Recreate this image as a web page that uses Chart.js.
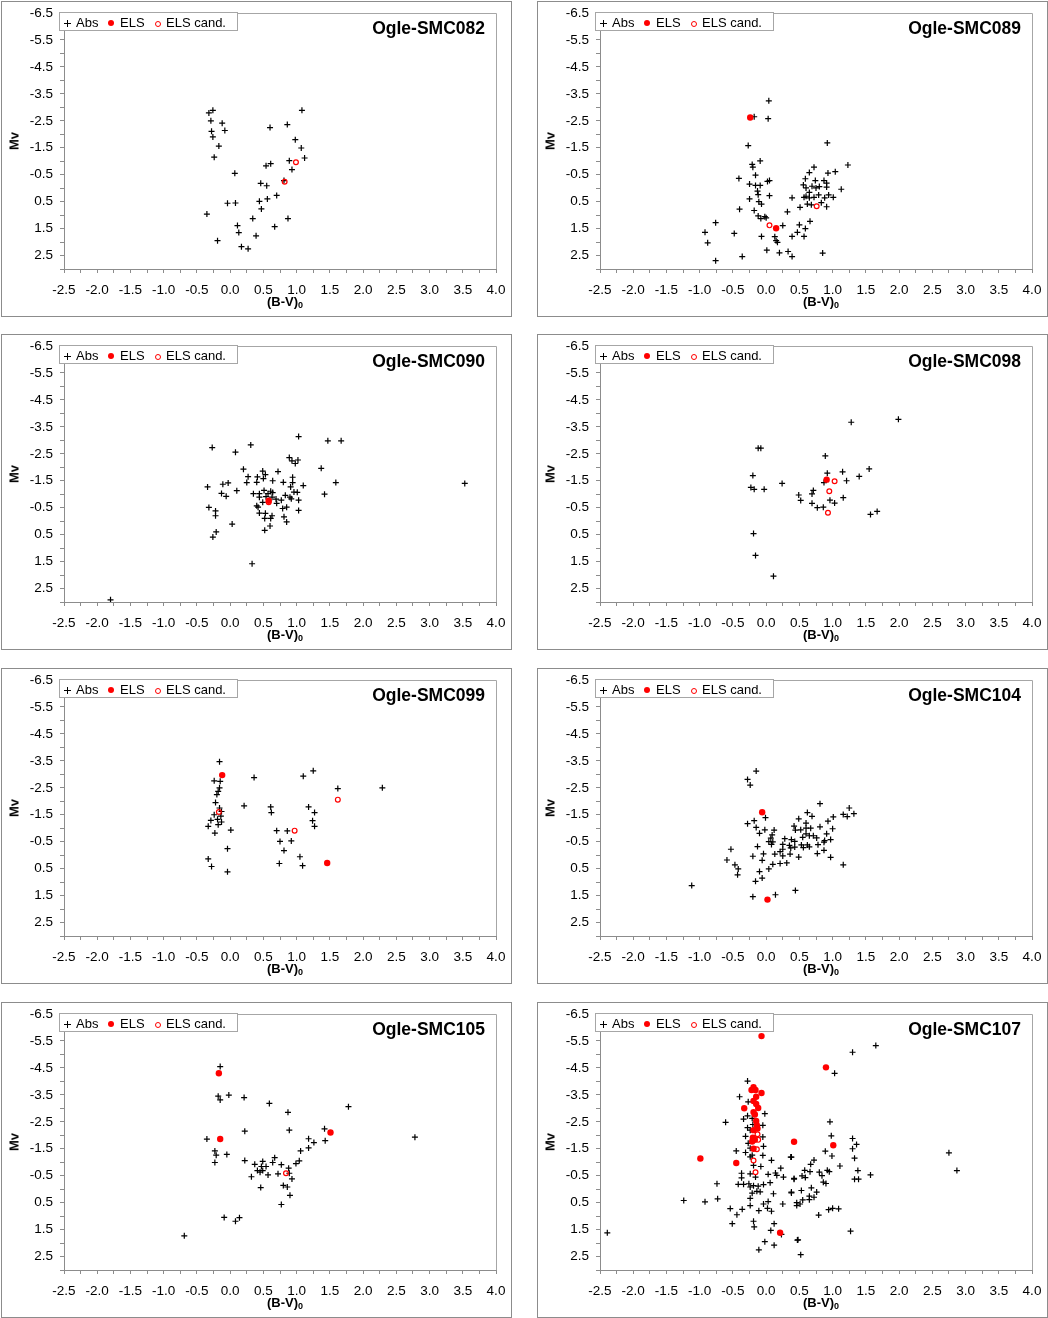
<!DOCTYPE html>
<html>
<head>
<meta charset="utf-8">
<title>Ogle-SMC colour-magnitude diagrams</title>
<script src="https://cdn.jsdelivr.net/npm/chart.js@4.4.1/dist/chart.umd.min.js"></script>
<style>
  body { margin: 0; background: #fff; font-family: "Liberation Sans", Arial, sans-serif; color: #000; }
  .panel { position: absolute; width: 511px; height: 316px; box-sizing: border-box; border: 1px solid #8c8c8c; background: #fff; }
  .panel canvas { position: absolute; left: 0; top: 0; }
  .lg { position: absolute; left: 57px; top: 10px; width: 179px; height: 19px; box-sizing: border-box; border: 1px solid #a6a6a6; background: #fff; }
  .lg span { position: absolute; }
  .lt { top: 3px; font-size: 13px; line-height: 13px; white-space: nowrap; }
  .t1 { left: 16px; } .t2 { left: 60px; } .t3 { left: 106px; }
  .cr { left: 4px; top: 7px; width: 7px; height: 7px; }
  .cr::before { content: ''; position: absolute; left: 0; top: 3px; width: 7px; height: 1px; background: #000; }
  .cr::after { content: ''; position: absolute; left: 3px; top: 0; width: 1px; height: 7px; background: #000; }
  .dot { left: 48px; top: 7px; width: 6px; height: 6px; border-radius: 50%; background: #ff0000; }
  .ring { left: 95px; top: 7.5px; width: 4px; height: 4px; border: 1px solid #ff0000; border-radius: 50%; }
  .ttl { position: absolute; right: 26px; top: 18px; font-weight: bold; font-size: 17.5px; line-height: 17.5px; white-space: nowrap; }
  .ytl { position: absolute; left: 11.5px; top: 139px; transform: translate(-50%, -50%) rotate(-90deg); font-weight: bold; font-size: 13px; line-height: 13px; }
  .xtl { position: absolute; left: 283px; top: 299px; transform: translate(-50%, -50%); font-weight: bold; font-size: 13px; line-height: 13px; white-space: nowrap; }
  .xtl sub { font-size: 9px; line-height: 0; vertical-align: -2px; }
</style>
</head>
<body>
<script>
// tick values and their labels (empty label = minor tick)
var xTicks = [-2.5, -2.25, -2.0, -1.75, -1.5, -1.25, -1.0, -0.75, -0.5, -0.25, 0.0, 0.25, 0.5, 0.75, 1.0, 1.25, 1.5, 1.75, 2.0, 2.25, 2.5, 2.75, 3.0, 3.25, 3.5, 3.75, 4.0];
var xTickLabels = ['-2.5', '', '-2.0', '', '-1.5', '', '-1.0', '', '-0.5', '', '0.0', '', '0.5', '', '1.0', '', '1.5', '', '2.0', '', '2.5', '', '3.0', '', '3.5', '', '4.0'];
var yTicks = [-6.5, -6.0, -5.5, -5.0, -4.5, -4.0, -3.5, -3.0, -2.5, -2.0, -1.5, -1.0, -0.5, 0.0, 0.5, 1.0, 1.5, 2.0, 2.5, 3.0];
var yTickLabels = ['-6.5', '', '-5.5', '', '-4.5', '', '-3.5', '', '-2.5', '', '-1.5', '', '-0.5', '', '0.5', '', '1.5', '', '2.5', ''];

var panelNames = ['Ogle-SMC082', 'Ogle-SMC089', 'Ogle-SMC090', 'Ogle-SMC098', 'Ogle-SMC099', 'Ogle-SMC104', 'Ogle-SMC105', 'Ogle-SMC107'];

// [(B-V)0, Mv] pairs
var smc082Abs = [[-0.26,-2.89],[-0.32,-2.79],[-0.29,-2.50],[-0.12,-2.41],[-0.28,-2.11],[-0.08,-2.14],[-0.26,-1.90],[-0.17,-1.56],[-0.24,-1.15],[1.08,-2.89],[0.60,-2.25],[0.86,-2.36],[0.98,-1.80],[1.07,-1.49],[1.12,-1.12],[0.89,-1.02],[0.93,-0.69],[0.54,-0.83],[0.61,-0.91],[0.81,-0.28],[0.07,-0.55],[0.46,-0.18],[0.55,-0.09],[0.70,0.27],[0.56,0.40],[0.44,0.49],[-0.04,0.56],[0.08,0.55],[0.47,0.77],[-0.35,0.96],[0.34,1.13],[0.87,1.13],[0.11,1.39],[0.67,1.43],[0.13,1.65],[0.39,1.77],[-0.19,1.95],[0.17,2.17],[0.27,2.25]];
var smc082Els = [];
var smc082Cand = [[0.99,-0.96],[0.82,-0.24]];

var smc089Abs = [[0.04,-3.24],[-0.18,-2.65],[0.03,-2.58],[-0.27,-1.58],[0.92,-1.68],[-0.09,-1.01],[-0.21,-0.88],[-0.20,-0.78],[1.23,-0.86],[0.72,-0.78],[0.65,-0.58],[0.93,-0.56],[1.04,-0.61],[-0.16,-0.48],[-0.41,-0.36],[0.05,-0.28],[0.02,-0.25],[0.59,-0.35],[0.74,-0.28],[0.87,-0.28],[0.91,-0.19],[-0.25,-0.15],[-0.16,-0.10],[-0.09,-0.10],[0.56,-0.12],[0.69,-0.07],[0.60,-0.01],[0.75,-0.01],[0.80,-0.06],[0.91,-0.04],[1.13,0.04],[-0.13,0.11],[-0.12,0.24],[0.05,0.28],[0.65,0.16],[0.79,0.25],[0.94,0.25],[-0.25,0.40],[0.39,0.36],[0.57,0.34],[0.60,0.30],[0.65,0.36],[0.72,0.34],[0.88,0.36],[1.01,0.34],[-0.11,0.50],[-0.07,0.59],[0.51,0.71],[0.62,0.59],[0.68,0.62],[0.83,0.54],[0.91,0.69],[-0.40,0.78],[-0.18,0.83],[0.32,0.88],[-0.12,1.03],[-0.08,1.13],[-0.02,1.06],[0.00,1.10],[-0.76,1.28],[0.66,1.23],[0.50,1.36],[0.25,1.39],[0.59,1.50],[-0.92,1.64],[-0.48,1.68],[0.47,1.64],[0.39,1.79],[0.57,1.79],[-0.07,1.79],[0.13,1.80],[0.15,1.95],[0.17,2.01],[-0.88,2.03],[0.01,2.30],[0.20,2.40],[0.33,2.35],[0.39,2.54],[0.85,2.41],[-0.36,2.54],[-0.76,2.69]];
var smc089Els = [[-0.24,-2.62],[0.15,1.49]];
var smc089Cand = [[0.76,0.67],[0.05,1.38]];

var smc090Abs = [[1.03,-3.14],[1.47,-2.98],[1.67,-2.98],[-0.27,-2.73],[0.31,-2.83],[0.08,-2.56],[0.89,-2.36],[0.93,-2.24],[1.02,-2.27],[0.98,-2.14],[1.37,-1.96],[0.20,-1.93],[0.49,-1.86],[0.72,-1.84],[0.53,-1.73],[0.27,-1.65],[0.41,-1.64],[0.50,-1.58],[0.94,-1.63],[0.64,-1.50],[0.40,-1.44],[0.25,-1.43],[0.80,-1.44],[0.94,-1.43],[1.59,-1.43],[-0.03,-1.42],[-0.11,-1.37],[-0.34,-1.27],[0.91,-1.27],[1.10,-1.32],[0.10,-1.13],[0.51,-1.14],[0.61,-1.11],[0.96,-1.08],[-0.13,-1.03],[-0.06,-0.92],[0.35,-1.02],[0.44,-1.02],[0.57,-1.02],[0.64,-1.06],[1.01,-1.07],[1.42,-1.00],[0.83,-0.96],[0.90,-0.89],[0.44,-0.89],[0.54,-0.91],[0.63,-0.89],[0.92,-0.83],[1.03,-0.78],[0.69,-0.82],[0.77,-0.78],[0.49,-0.70],[0.70,-0.66],[0.40,-0.57],[0.42,-0.52],[-0.32,-0.51],[0.79,-0.47],[0.85,-0.52],[1.03,-0.40],[-0.22,-0.38],[-0.22,-0.20],[0.44,-0.30],[0.53,-0.29],[0.63,-0.20],[0.61,-0.10],[0.81,-0.16],[0.52,-0.10],[0.85,0.03],[0.03,0.11],[0.60,0.18],[-0.21,0.40],[-0.26,0.59],[0.52,0.34],[0.33,1.58],[-1.80,2.92],[3.53,-1.40]];
var smc090Els = [[0.58,-0.76]];
var smc090Cand = [[0.58,-0.70]];

var smc098Abs = [[1.28,-3.67],[1.99,-3.78],[-0.12,-2.71],[-0.08,-2.71],[0.89,-2.42],[0.92,-1.78],[1.15,-1.83],[1.55,-1.94],[-0.20,-1.69],[1.40,-1.66],[1.21,-1.50],[0.87,-1.43],[0.24,-1.40],[-0.23,-1.25],[-0.18,-1.18],[-0.03,-1.18],[0.71,-1.14],[0.69,-1.01],[0.49,-0.97],[0.52,-0.77],[0.96,-0.78],[1.03,-0.67],[1.16,-0.87],[0.69,-0.66],[0.77,-0.50],[0.86,-0.52],[1.57,-0.25],[1.67,-0.36],[-0.19,0.46],[-0.16,1.27],[0.11,2.04]];
var smc098Els = [[0.91,-1.54]];
var smc098Cand = [[1.03,-1.48],[0.95,-1.11],[0.93,-0.31]];

var smc099Abs = [[-0.16,-3.47],[1.25,-3.13],[1.10,-2.93],[0.36,-2.88],[-0.24,-2.76],[-0.15,-2.74],[2.29,-2.50],[-0.16,-2.50],[-0.18,-2.37],[-0.20,-2.25],[1.62,-2.47],[-0.22,-1.95],[0.21,-1.83],[0.61,-1.79],[0.62,-1.58],[1.18,-1.79],[1.27,-1.58],[-0.16,-1.75],[-0.13,-1.62],[-0.24,-1.50],[-0.14,-1.45],[-0.29,-1.29],[-0.19,-1.33],[-0.13,-1.23],[-0.18,-1.13],[-0.33,-1.07],[0.01,-0.93],[-0.23,-0.82],[1.24,-1.28],[1.27,-1.07],[0.70,-0.91],[0.86,-0.90],[0.92,-0.53],[0.75,-0.51],[0.81,-0.17],[-0.04,-0.24],[1.05,0.06],[-0.33,0.14],[0.74,0.31],[1.09,0.39],[-0.28,0.42],[-0.04,0.62]];
var smc099Els = [[-0.12,-2.97],[1.46,0.29]];
var smc099Cand = [[1.62,-2.06],[-0.17,-1.60],[0.97,-0.91]];

var smc104Abs = [[-0.15,-3.12],[-0.28,-2.81],[-0.24,-2.60],[0.81,-1.91],[0.62,-1.58],[0.69,-1.44],[0.49,-1.35],[-0.01,-1.39],[-0.18,-1.28],[-0.28,-1.17],[-0.15,-1.03],[-0.10,-0.81],[-0.02,-0.94],[0.12,-0.93],[0.09,-0.75],[0.07,-0.63],[0.04,-0.50],[0.08,-0.40],[-0.13,-0.32],[-0.53,-0.22],[0.42,-1.08],[0.44,-0.93],[0.52,-0.94],[0.60,-1.19],[0.60,-1.00],[0.67,-1.00],[0.60,-0.79],[0.65,-0.72],[0.71,-0.72],[0.55,-0.66],[0.76,-0.64],[0.28,-0.61],[0.38,-0.58],[0.43,-0.51],[0.25,-0.40],[0.35,-0.36],[0.53,-0.38],[0.56,-0.28],[0.62,-0.38],[0.65,-0.31],[0.37,-0.27],[0.43,-0.30],[0.78,-0.39],[0.87,-0.48],[0.88,-0.54],[0.91,-0.79],[0.97,-0.58],[0.81,-1.05],[0.93,-1.26],[1.00,-0.98],[1.01,-1.42],[1.16,-1.51],[1.22,-1.43],[1.25,-1.75],[1.32,-1.54],[0.77,-0.06],[0.87,-0.18],[0.97,0.08],[1.16,0.36],[-0.04,-0.05],[-0.20,0.04],[0.13,-0.04],[0.25,0.03],[0.36,-0.04],[0.49,0.07],[-0.06,0.19],[-0.59,0.18],[0.10,0.34],[0.21,0.31],[0.31,0.29],[-0.47,0.36],[-0.42,0.51],[0.04,0.51],[-0.10,0.61],[-0.43,0.73],[-0.06,0.85],[-0.16,0.97],[-1.12,1.13],[0.44,1.31],[0.14,1.47],[-0.20,1.54],[0.25,-0.22],[0.21,-0.13],[0.10,-0.49]];
var smc104Els = [[-0.06,-1.59],[0.02,1.65]];
var smc104Cand = [];

var smc105Abs = [[-0.15,-4.55],[-0.18,-3.45],[-0.15,-3.31],[-0.02,-3.49],[0.21,-3.40],[0.59,-3.18],[0.87,-2.85],[1.78,-3.06],[0.22,-2.15],[0.89,-2.19],[-0.35,-1.86],[1.42,-2.24],[1.43,-1.80],[1.18,-1.87],[1.26,-1.73],[1.18,-1.53],[1.06,-1.42],[-0.23,-1.42],[-0.21,-1.26],[-0.05,-1.29],[-0.23,-0.99],[0.22,-1.06],[0.37,-0.92],[0.49,-1.03],[0.67,-1.17],[0.64,-0.99],[0.77,-0.91],[1.04,-1.05],[0.99,-0.95],[0.47,-0.84],[0.54,-0.84],[0.41,-0.69],[0.49,-0.69],[0.45,-0.63],[0.32,-0.46],[0.57,-0.53],[0.72,-0.57],[0.88,-0.78],[0.89,-0.59],[0.93,-0.38],[0.46,-0.06],[0.80,-0.14],[0.86,-0.08],[0.90,0.23],[0.77,0.57],[-0.09,1.05],[0.14,1.06],[0.08,1.19],[-0.69,1.73],[2.78,-1.93]];
var smc105Els = [[-0.17,-4.30],[-0.15,-1.86],[1.51,-2.10]];
var smc105Cand = [[0.84,-0.59]];

var smc107Abs = [[-0.28,-4.01],[-0.40,-3.43],[-0.27,-3.24],[-0.02,-2.80],[-0.61,-2.48],[-0.34,-2.60],[-0.28,-2.72],[-0.21,-2.63],[-0.20,-2.40],[-0.05,-2.37],[-0.28,-2.28],[-0.24,-2.19],[-0.31,-1.96],[-0.05,-1.94],[-0.27,-1.70],[-0.04,-1.59],[-0.45,-1.42],[-0.31,-1.36],[-0.24,-1.52],[-0.21,-1.26],[-0.24,-1.20],[-0.05,-1.25],[0.08,-1.07],[0.37,-1.19],[-0.19,-0.88],[-0.08,-0.84],[0.22,-0.78],[-0.37,-0.59],[-0.24,-0.57],[-0.16,-0.45],[0.03,-0.55],[0.14,-0.60],[0.16,-0.51],[0.26,-0.45],[0.42,-0.37],[-0.37,-0.42],[-0.74,-0.20],[-0.42,-0.18],[-0.34,-0.18],[-0.26,-0.20],[0.06,-0.24],[-0.19,-0.13],[-0.12,-0.11],[-0.04,-0.17],[-0.24,-0.08],[-0.14,0.08],[-0.21,0.15],[-0.09,0.10],[0.11,0.17],[0.38,0.14],[-0.24,0.34],[-0.73,0.36],[-0.92,0.47],[0.03,0.46],[-0.04,0.55],[0.25,0.55],[0.46,0.50],[-0.24,0.61],[-0.54,0.72],[0.02,0.71],[-0.36,0.75],[-0.11,0.80],[0.08,0.82],[-0.44,0.95],[-0.19,1.19],[-0.18,1.40],[-0.51,1.28],[0.12,1.28],[0.07,1.53],[0.23,1.68],[-0.02,1.95],[0.12,2.08],[-0.11,2.25],[0.47,1.89],[1.65,-5.33],[1.30,-5.08],[1.03,-4.30],[0.96,-2.50],[0.98,-1.98],[1.30,-1.88],[1.36,-1.66],[1.30,-1.50],[0.89,-1.41],[0.99,-1.23],[1.33,-1.15],[1.11,-0.86],[1.38,-0.69],[1.33,-0.37],[1.39,-0.37],[1.57,-0.53],[2.75,-1.35],[2.87,-0.69],[0.72,-1.08],[0.67,-0.92],[0.58,-0.70],[0.66,-0.65],[0.80,-0.63],[0.92,-0.70],[0.95,-0.65],[0.84,-0.50],[0.54,-0.49],[0.59,-0.43],[0.42,-0.40],[0.86,-0.26],[0.90,-0.21],[0.53,0.05],[0.38,0.11],[0.68,-0.05],[0.76,0.11],[0.65,0.26],[0.72,0.30],[0.55,0.40],[0.65,0.39],[0.51,0.55],[0.46,0.61],[1.09,0.73],[1.00,0.71],[0.94,0.76],[0.79,0.96],[1.27,1.56],[0.48,1.88],[0.52,2.43],[0.38,-1.19],[-2.39,1.62],[-1.24,0.42]];
var smc107Els = [[-0.07,-5.68],[-0.19,-3.78],[-0.16,-3.68],[-0.22,-3.68],[-0.07,-3.57],[-0.15,-3.43],[-0.19,-3.27],[-0.15,-3.16],[-0.12,-3.01],[-0.33,-3.00],[-0.19,-2.86],[-0.17,-2.77],[-0.15,-2.53],[-0.14,-2.37],[-0.13,-2.25],[-0.19,-2.19],[-0.20,-1.91],[-0.21,-1.77],[-0.17,-1.83],[-0.19,-1.50],[0.42,-1.76],[-0.99,-1.14],[-0.45,-0.97],[0.21,1.62],[0.90,-4.52],[1.01,-1.63]];
var smc107Cand = [[-0.13,-2.04],[-0.12,-1.83],[-0.14,-1.48],[-0.19,-1.06],[-0.16,-0.63]];

var absSets = [smc082Abs, smc089Abs, smc090Abs, smc098Abs, smc099Abs, smc104Abs, smc105Abs, smc107Abs];
var elsSets = [smc082Els, smc089Els, smc090Els, smc098Els, smc099Els, smc104Els, smc105Els, smc107Els];
var candSets = [smc082Cand, smc089Cand, smc090Cand, smc098Cand, smc099Cand, smc104Cand, smc105Cand, smc107Cand];

// where each framed panel sits on the page
var panelLeft = [1, 537, 1, 537, 1, 537, 1, 537];
var panelTop = [1, 1, 334, 334, 668, 668, 1002, 1002];

Chart.defaults.font.family = "'Liberation Sans', Arial, sans-serif";
Chart.defaults.font.size = 13.5;
Chart.defaults.color = '#000';

function toPoints(arr) {
    return arr.map(function (p) { return { x: p[0], y: p[1] }; });
}

// light grey line along the top and right of the plot area
var framePlugin = {
    id: 'frame',
    beforeDatasetsDraw: function (chart) {
        var a = chart.chartArea, ctx = chart.ctx;
        var t = Math.round(a.top) + 0.5, r = Math.round(a.right) + 0.5;
        ctx.save();
        ctx.strokeStyle = '#a6a6a6';
        ctx.lineWidth = 1;
        ctx.beginPath();
        ctx.moveTo(a.left, t);
        ctx.lineTo(r, t);
        ctx.lineTo(r, a.bottom);
        ctx.stroke();
        ctx.restore();
    }
};

function buildPanel(i) {
    var div = document.createElement('div');
    div.className = 'panel';
    div.style.left = panelLeft[i] + 'px';
    div.style.top = panelTop[i] + 'px';
    div.innerHTML =
        '<canvas width="509" height="314" style="width:509px;height:314px"></canvas>' +
        '<div class="lg"><span class="cr"></span><span class="lt t1">Abs</span>' +
        '<span class="dot"></span><span class="lt t2">ELS</span>' +
        '<span class="ring"></span><span class="lt t3">ELS cand.</span></div>' +
        '<div class="ttl">' + panelNames[i] + '</div>' +
        '<div class="ytl">Mv</div>' +
        '<div class="xtl">(B-V)<sub>0</sub></div>';
    document.body.appendChild(div);

    var ctx = div.querySelector('canvas').getContext('2d');
    new Chart(ctx, {
        type: 'scatter',
        data: {
            datasets: [
                {
                    label: 'ELS',
                    data: toPoints(elsSets[i]),
                    pointStyle: 'circle',
                    pointRadius: 3.2,
                    pointHoverRadius: 3.2,
                    pointBorderWidth: 0,
                    backgroundColor: '#ff0000',
                    borderColor: '#ff0000',
                    order: 0
                },
                {
                    label: 'ELS cand.',
                    data: toPoints(candSets[i]),
                    pointStyle: 'circle',
                    pointRadius: 2.4,
                    pointHoverRadius: 2.4,
                    pointBorderWidth: 1.2,
                    backgroundColor: 'rgba(255,255,255,0)',
                    borderColor: '#ff0000',
                    order: 1
                },
                {
                    label: 'Abs',
                    data: toPoints(absSets[i]),
                    pointStyle: 'cross',
                    pointRadius: 3,
                    pointHoverRadius: 3,
                    pointBorderWidth: 1.2,
                    backgroundColor: '#000',
                    borderColor: '#000',
                    order: 2
                }
            ]
        },
        options: {
            responsive: false,
            animation: false,
            events: [],
            layout: { padding: { left: 12, right: 15, top: 11, bottom: 7 } },
            plugins: { legend: { display: false }, tooltip: { enabled: false } },
            scales: {
                x: {
                    type: 'linear',
                    min: -2.5,
                    max: 4.0,
                    afterBuildTicks: function (scale) {
                        scale.ticks = xTicks.map(function (v) { return { value: v }; });
                    },
                    afterFit: function (scale) {
                        scale.height = 40;
                        scale.paddingLeft = 0;
                        scale.paddingRight = 0;
                    },
                    ticks: {
                        autoSkip: false,
                        maxRotation: 0,
                        minRotation: 0,
                        padding: 9,
                        color: '#000',
                        callback: function (value, index) { return xTickLabels[index]; }
                    },
                    grid: { drawOnChartArea: false, drawTicks: true, tickLength: 4, tickColor: '#8c8c8c' },
                    border: { display: true, color: '#8c8c8c', width: 1 }
                },
                y: {
                    type: 'linear',
                    reverse: true,
                    min: -6.5,
                    max: 3.0,
                    afterBuildTicks: function (scale) {
                        scale.ticks = yTicks.map(function (v) { return { value: v }; });
                    },
                    afterFit: function (scale) {
                        scale.width = 50;
                        scale.paddingTop = 0;
                        scale.paddingBottom = 0;
                    },
                    ticks: {
                        autoSkip: false,
                        padding: 7,
                        color: '#000',
                        callback: function (value, index) { return yTickLabels[index]; }
                    },
                    grid: { drawOnChartArea: false, drawTicks: true, tickLength: 4, tickColor: '#8c8c8c' },
                    border: { display: true, color: '#8c8c8c', width: 1 }
                }
            }
        },
        plugins: [framePlugin]
    });
}

for (var i = 0; i < panelNames.length; i++) {
    buildPanel(i);
}
</script>
</body>
</html>
